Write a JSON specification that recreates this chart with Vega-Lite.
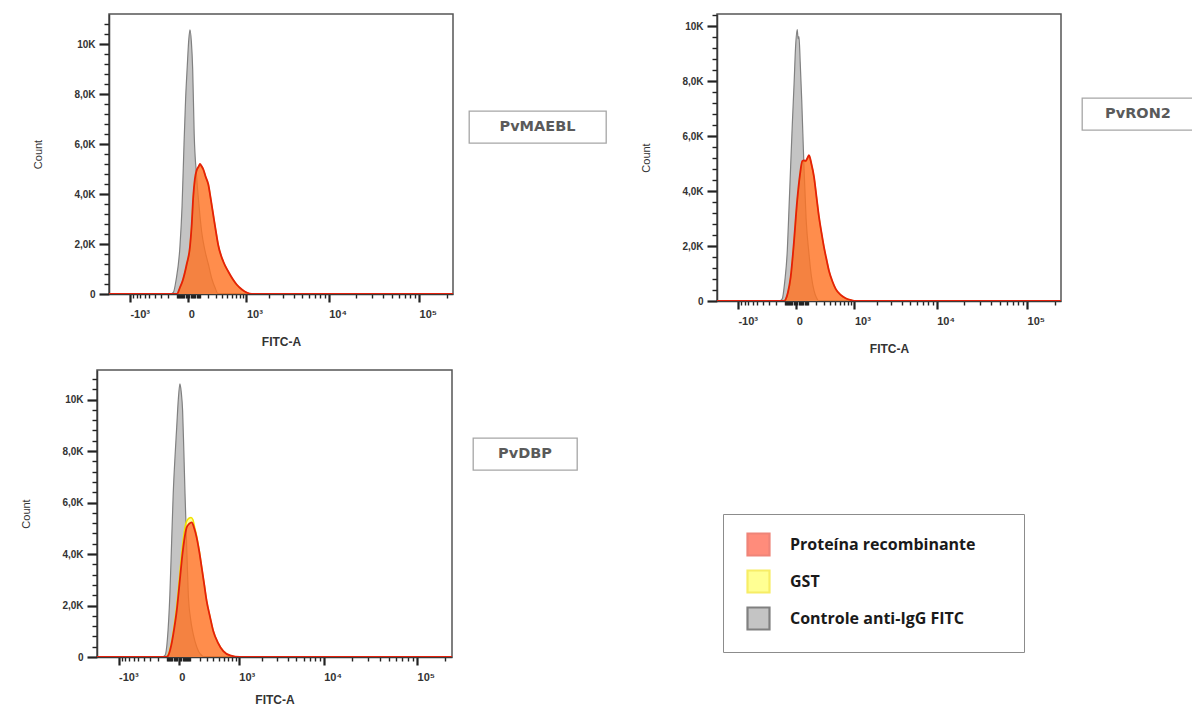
{
  "$schema": "https://vega.github.io/schema/vega-lite/v6.json",
  "background": "white",
  "padding": {"left": 0, "top": 9, "right": 0, "bottom": 0},
  "config": {
    "view": {"stroke": "#555555", "strokeWidth": 1.5},
    "axis": {"grid": false, "domainColor": "#3a3a3a", "domainWidth": 1.5, "tickColor": "#222222", "labelColor": "#333333", "labelFont": "Liberation Sans", "labelFontSize": 10, "labelFontWeight": "bold", "titleColor": "#333333", "titleFont": "Liberation Sans"},
    "legend": {"symbolType": "square", "symbolSize": 484, "symbolStrokeWidth": 2.2, "symbolOffset": 5, "labelFont": "Open Sans", "labelFontSize": 16, "labelFontWeight": "bold", "labelColor": "#1a1a1a", "labelOffset": 19, "rowPadding": 6, "padding": 18, "strokeColor": "#8c8c8c", "fillColor": "white", "labelLimit": 400}
  },
  "datasets": {
    "p1": [
      {"serie": "Controle anti-IgG FITC", "fitc": -1900, "count": 0}, {"serie": "Controle anti-IgG FITC", "fitc": -170, "count": 0}, {"serie": "Controle anti-IgG FITC", "fitc": -136, "count": 60}, {"serie": "Controle anti-IgG FITC", "fitc": -108, "count": 530}, {"serie": "Controle anti-IgG FITC", "fitc": -69, "count": 1900}, {"serie": "Controle anti-IgG FITC", "fitc": -50, "count": 3500}, {"serie": "Controle anti-IgG FITC", "fitc": -33, "count": 6000}, {"serie": "Controle anti-IgG FITC", "fitc": -20, "count": 7800}, {"serie": "Controle anti-IgG FITC", "fitc": -7, "count": 9100}, {"serie": "Controle anti-IgG FITC", "fitc": 5, "count": 10200}, {"serie": "Controle anti-IgG FITC", "fitc": 14, "count": 10570}, {"serie": "Controle anti-IgG FITC", "fitc": 25, "count": 10100}, {"serie": "Controle anti-IgG FITC", "fitc": 36, "count": 9000}, {"serie": "Controle anti-IgG FITC", "fitc": 49, "count": 6400}, {"serie": "Controle anti-IgG FITC", "fitc": 71, "count": 4700}, {"serie": "Controle anti-IgG FITC", "fitc": 95, "count": 3500}, {"serie": "Controle anti-IgG FITC", "fitc": 121, "count": 2500}, {"serie": "Controle anti-IgG FITC", "fitc": 160, "count": 1700}, {"serie": "Controle anti-IgG FITC", "fitc": 198, "count": 1200}, {"serie": "Controle anti-IgG FITC", "fitc": 245, "count": 600}, {"serie": "Controle anti-IgG FITC", "fitc": 289, "count": 260}, {"serie": "Controle anti-IgG FITC", "fitc": 340, "count": 0}, {"serie": "Controle anti-IgG FITC", "fitc": 235000, "count": 0},
      {"serie": "GST", "fitc": -1900, "count": 0}, {"serie": "GST", "fitc": -96, "count": 0}, {"serie": "GST", "fitc": -70, "count": 240}, {"serie": "GST", "fitc": -45, "count": 520}, {"serie": "GST", "fitc": -11, "count": 1190}, {"serie": "GST", "fitc": 14, "count": 1890}, {"serie": "GST", "fitc": 27, "count": 2690}, {"serie": "GST", "fitc": 41, "count": 3880}, {"serie": "GST", "fitc": 55, "count": 4580}, {"serie": "GST", "fitc": 71, "count": 4930}, {"serie": "GST", "fitc": 90, "count": 5080}, {"serie": "GST", "fitc": 104, "count": 5180}, {"serie": "GST", "fitc": 120, "count": 5100}, {"serie": "GST", "fitc": 139, "count": 4970}, {"serie": "GST", "fitc": 165, "count": 4690}, {"serie": "GST", "fitc": 198, "count": 4370}, {"serie": "GST", "fitc": 230, "count": 3790}, {"serie": "GST", "fitc": 263, "count": 3180}, {"serie": "GST", "fitc": 300, "count": 2540}, {"serie": "GST", "fitc": 340, "count": 1940}, {"serie": "GST", "fitc": 426, "count": 1290}, {"serie": "GST", "fitc": 523, "count": 890}, {"serie": "GST", "fitc": 620, "count": 590}, {"serie": "GST", "fitc": 717, "count": 370}, {"serie": "GST", "fitc": 860, "count": 175}, {"serie": "GST", "fitc": 1008, "count": 55}, {"serie": "GST", "fitc": 1180, "count": 0}, {"serie": "GST", "fitc": 235000, "count": 0},
      {"serie": "Proteína recombinante", "fitc": -1900, "count": 0}, {"serie": "Proteína recombinante", "fitc": -98, "count": 0}, {"serie": "Proteína recombinante", "fitc": -70, "count": 250}, {"serie": "Proteína recombinante", "fitc": -45, "count": 530}, {"serie": "Proteína recombinante", "fitc": -11, "count": 1200}, {"serie": "Proteína recombinante", "fitc": 14, "count": 1900}, {"serie": "Proteína recombinante", "fitc": 27, "count": 2700}, {"serie": "Proteína recombinante", "fitc": 41, "count": 3900}, {"serie": "Proteína recombinante", "fitc": 55, "count": 4600}, {"serie": "Proteína recombinante", "fitc": 71, "count": 4950}, {"serie": "Proteína recombinante", "fitc": 90, "count": 5100}, {"serie": "Proteína recombinante", "fitc": 104, "count": 5200}, {"serie": "Proteína recombinante", "fitc": 120, "count": 5120}, {"serie": "Proteína recombinante", "fitc": 139, "count": 4990}, {"serie": "Proteína recombinante", "fitc": 165, "count": 4700}, {"serie": "Proteína recombinante", "fitc": 198, "count": 4390}, {"serie": "Proteína recombinante", "fitc": 230, "count": 3800}, {"serie": "Proteína recombinante", "fitc": 263, "count": 3190}, {"serie": "Proteína recombinante", "fitc": 300, "count": 2550}, {"serie": "Proteína recombinante", "fitc": 340, "count": 1950}, {"serie": "Proteína recombinante", "fitc": 426, "count": 1300}, {"serie": "Proteína recombinante", "fitc": 523, "count": 900}, {"serie": "Proteína recombinante", "fitc": 620, "count": 600}, {"serie": "Proteína recombinante", "fitc": 717, "count": 380}, {"serie": "Proteína recombinante", "fitc": 860, "count": 180}, {"serie": "Proteína recombinante", "fitc": 1008, "count": 60}, {"serie": "Proteína recombinante", "fitc": 1194, "count": 0}, {"serie": "Proteína recombinante", "fitc": 235000, "count": 0}
    ],
    "p2": [
      {"serie": "Controle anti-IgG FITC", "fitc": -1900, "count": 0}, {"serie": "Controle anti-IgG FITC", "fitc": -160, "count": 0}, {"serie": "Controle anti-IgG FITC", "fitc": -126, "count": 80}, {"serie": "Controle anti-IgG FITC", "fitc": -100, "count": 700}, {"serie": "Controle anti-IgG FITC", "fitc": -75, "count": 1840}, {"serie": "Controle anti-IgG FITC", "fitc": -60, "count": 3300}, {"serie": "Controle anti-IgG FITC", "fitc": -45, "count": 4880}, {"serie": "Controle anti-IgG FITC", "fitc": -30, "count": 6500}, {"serie": "Controle anti-IgG FITC", "fitc": -16, "count": 7930}, {"serie": "Controle anti-IgG FITC", "fitc": -5, "count": 9200}, {"serie": "Controle anti-IgG FITC", "fitc": 8, "count": 9880}, {"serie": "Controle anti-IgG FITC", "fitc": 15, "count": 9550}, {"serie": "Controle anti-IgG FITC", "fitc": 22, "count": 9630}, {"serie": "Controle anti-IgG FITC", "fitc": 32, "count": 8700}, {"serie": "Controle anti-IgG FITC", "fitc": 45, "count": 7320}, {"serie": "Controle anti-IgG FITC", "fitc": 65, "count": 4880}, {"serie": "Controle anti-IgG FITC", "fitc": 85, "count": 3000}, {"serie": "Controle anti-IgG FITC", "fitc": 114, "count": 1720}, {"serie": "Controle anti-IgG FITC", "fitc": 140, "count": 900}, {"serie": "Controle anti-IgG FITC", "fitc": 170, "count": 380}, {"serie": "Controle anti-IgG FITC", "fitc": 200, "count": 120}, {"serie": "Controle anti-IgG FITC", "fitc": 233, "count": 0}, {"serie": "Controle anti-IgG FITC", "fitc": 235000, "count": 0},
      {"serie": "GST", "fitc": -1900, "count": 0}, {"serie": "GST", "fitc": -108, "count": 0}, {"serie": "GST", "fitc": -91, "count": 55}, {"serie": "GST", "fitc": -70, "count": 290}, {"serie": "GST", "fitc": -45, "count": 850}, {"serie": "GST", "fitc": -20, "count": 1980}, {"serie": "GST", "fitc": 8, "count": 3640}, {"serie": "GST", "fitc": 30, "count": 4570}, {"serie": "GST", "fitc": 50, "count": 5080}, {"serie": "GST", "fitc": 65, "count": 5100}, {"serie": "GST", "fitc": 81, "count": 5080}, {"serie": "GST", "fitc": 100, "count": 5200}, {"serie": "GST", "fitc": 114, "count": 5290}, {"serie": "GST", "fitc": 140, "count": 4980}, {"serie": "GST", "fitc": 170, "count": 4500}, {"serie": "GST", "fitc": 200, "count": 3780}, {"serie": "GST", "fitc": 233, "count": 3040}, {"serie": "GST", "fitc": 270, "count": 2430}, {"serie": "GST", "fitc": 304, "count": 1950}, {"serie": "GST", "fitc": 345, "count": 1490}, {"serie": "GST", "fitc": 385, "count": 1090}, {"serie": "GST", "fitc": 450, "count": 690}, {"serie": "GST", "fitc": 511, "count": 430}, {"serie": "GST", "fitc": 620, "count": 215}, {"serie": "GST", "fitc": 742, "count": 95}, {"serie": "GST", "fitc": 900, "count": 28}, {"serie": "GST", "fitc": 1030, "count": 0}, {"serie": "GST", "fitc": 235000, "count": 0},
      {"serie": "Proteína recombinante", "fitc": -1900, "count": 0}, {"serie": "Proteína recombinante", "fitc": -110, "count": 0}, {"serie": "Proteína recombinante", "fitc": -91, "count": 60}, {"serie": "Proteína recombinante", "fitc": -70, "count": 300}, {"serie": "Proteína recombinante", "fitc": -45, "count": 860}, {"serie": "Proteína recombinante", "fitc": -20, "count": 2000}, {"serie": "Proteína recombinante", "fitc": 8, "count": 3670}, {"serie": "Proteína recombinante", "fitc": 30, "count": 4600}, {"serie": "Proteína recombinante", "fitc": 50, "count": 5100}, {"serie": "Proteína recombinante", "fitc": 65, "count": 5120}, {"serie": "Proteína recombinante", "fitc": 81, "count": 5100}, {"serie": "Proteína recombinante", "fitc": 100, "count": 5220}, {"serie": "Proteína recombinante", "fitc": 114, "count": 5310}, {"serie": "Proteína recombinante", "fitc": 140, "count": 5000}, {"serie": "Proteína recombinante", "fitc": 170, "count": 4520}, {"serie": "Proteína recombinante", "fitc": 200, "count": 3800}, {"serie": "Proteína recombinante", "fitc": 233, "count": 3060}, {"serie": "Proteína recombinante", "fitc": 270, "count": 2450}, {"serie": "Proteína recombinante", "fitc": 304, "count": 1960}, {"serie": "Proteína recombinante", "fitc": 345, "count": 1500}, {"serie": "Proteína recombinante", "fitc": 385, "count": 1100}, {"serie": "Proteína recombinante", "fitc": 450, "count": 700}, {"serie": "Proteína recombinante", "fitc": 511, "count": 440}, {"serie": "Proteína recombinante", "fitc": 620, "count": 220}, {"serie": "Proteína recombinante", "fitc": 742, "count": 100}, {"serie": "Proteína recombinante", "fitc": 900, "count": 30}, {"serie": "Proteína recombinante", "fitc": 1041, "count": 0}, {"serie": "Proteína recombinante", "fitc": 235000, "count": 0}
    ],
    "p3": [
      {"serie": "Controle anti-IgG FITC", "fitc": -1900, "count": 0}, {"serie": "Controle anti-IgG FITC", "fitc": -150, "count": 0}, {"serie": "Controle anti-IgG FITC", "fitc": -119, "count": 60}, {"serie": "Controle anti-IgG FITC", "fitc": -95, "count": 700}, {"serie": "Controle anti-IgG FITC", "fitc": -72, "count": 2440}, {"serie": "Controle anti-IgG FITC", "fitc": -57, "count": 4400}, {"serie": "Controle anti-IgG FITC", "fitc": -43, "count": 6330}, {"serie": "Controle anti-IgG FITC", "fitc": -28, "count": 7800}, {"serie": "Controle anti-IgG FITC", "fitc": -15, "count": 8920}, {"serie": "Controle anti-IgG FITC", "fitc": -3, "count": 10000}, {"serie": "Controle anti-IgG FITC", "fitc": 9, "count": 10610}, {"serie": "Controle anti-IgG FITC", "fitc": 19, "count": 10300}, {"serie": "Controle anti-IgG FITC", "fitc": 30, "count": 9570}, {"serie": "Controle anti-IgG FITC", "fitc": 40, "count": 8000}, {"serie": "Controle anti-IgG FITC", "fitc": 50, "count": 6330}, {"serie": "Controle anti-IgG FITC", "fitc": 65, "count": 4200}, {"serie": "Controle anti-IgG FITC", "fitc": 79, "count": 2440}, {"serie": "Controle anti-IgG FITC", "fitc": 100, "count": 1500}, {"serie": "Controle anti-IgG FITC", "fitc": 128, "count": 880}, {"serie": "Controle anti-IgG FITC", "fitc": 165, "count": 400}, {"serie": "Controle anti-IgG FITC", "fitc": 204, "count": 130}, {"serie": "Controle anti-IgG FITC", "fitc": 270, "count": 0}, {"serie": "Controle anti-IgG FITC", "fitc": 235000, "count": 0},
      {"serie": "GST", "fitc": -1900, "count": 0}, {"serie": "GST", "fitc": -110, "count": 0}, {"serie": "GST", "fitc": -90, "count": 70}, {"serie": "GST", "fitc": -62, "count": 480}, {"serie": "GST", "fitc": -37, "count": 1150}, {"serie": "GST", "fitc": -17, "count": 1900}, {"serie": "GST", "fitc": 3, "count": 2950}, {"serie": "GST", "fitc": 21, "count": 3950}, {"serie": "GST", "fitc": 40, "count": 4750}, {"serie": "GST", "fitc": 62, "count": 5250}, {"serie": "GST", "fitc": 88, "count": 5400}, {"serie": "GST", "fitc": 105, "count": 5420}, {"serie": "GST", "fitc": 125, "count": 5330}, {"serie": "GST", "fitc": 145, "count": 5000}, {"serie": "GST", "fitc": 168, "count": 4650}, {"serie": "GST", "fitc": 197, "count": 4100}, {"serie": "GST", "fitc": 226, "count": 3470}, {"serie": "GST", "fitc": 260, "count": 2800}, {"serie": "GST", "fitc": 293, "count": 2180}, {"serie": "GST", "fitc": 345, "count": 1550}, {"serie": "GST", "fitc": 397, "count": 1010}, {"serie": "GST", "fitc": 480, "count": 560}, {"serie": "GST", "fitc": 590, "count": 230}, {"serie": "GST", "fitc": 750, "count": 60}, {"serie": "GST", "fitc": 1038, "count": 0}, {"serie": "GST", "fitc": 235000, "count": 0},
      {"serie": "Proteína recombinante", "fitc": -1900, "count": 0}, {"serie": "Proteína recombinante", "fitc": -105, "count": 0}, {"serie": "Proteína recombinante", "fitc": -87, "count": 60}, {"serie": "Proteína recombinante", "fitc": -60, "count": 450}, {"serie": "Proteína recombinante", "fitc": -35, "count": 1100}, {"serie": "Proteína recombinante", "fitc": -15, "count": 1790}, {"serie": "Proteína recombinante", "fitc": 5, "count": 2800}, {"serie": "Proteína recombinante", "fitc": 23, "count": 3740}, {"serie": "Proteína recombinante", "fitc": 42, "count": 4500}, {"serie": "Proteína recombinante", "fitc": 64, "count": 5030}, {"serie": "Proteína recombinante", "fitc": 88, "count": 5180}, {"serie": "Proteína recombinante", "fitc": 112, "count": 5230}, {"serie": "Proteína recombinante", "fitc": 138, "count": 5000}, {"serie": "Proteína recombinante", "fitc": 165, "count": 4640}, {"serie": "Proteína recombinante", "fitc": 195, "count": 4100}, {"serie": "Proteína recombinante", "fitc": 226, "count": 3470}, {"serie": "Proteína recombinante", "fitc": 260, "count": 2800}, {"serie": "Proteína recombinante", "fitc": 293, "count": 2180}, {"serie": "Proteína recombinante", "fitc": 345, "count": 1550}, {"serie": "Proteína recombinante", "fitc": 397, "count": 1010}, {"serie": "Proteína recombinante", "fitc": 480, "count": 560}, {"serie": "Proteína recombinante", "fitc": 590, "count": 230}, {"serie": "Proteína recombinante", "fitc": 750, "count": 60}, {"serie": "Proteína recombinante", "fitc": 1038, "count": 0}, {"serie": "Proteína recombinante", "fitc": 235000, "count": 0}
    ]
  },
  "spacing": 14,
  "vconcat": [
    {
      "spacing": 14,
      "hconcat": [
        {"width": 18, "height": 1, "data": {"values": []}, "mark": "point", "view": {"stroke": null}},
        {
          "width": 344, "height": 280,
          "data": {"name": "p1"},
          "encoding": {
            "x": {"field": "fitc", "type": "quantitative", "scale": {"type": "symlog", "constant": 300, "domain": [-1900, 235000], "nice": false, "zero": false},
              "axis": {"title": "FITC-A", "titleFontWeight": "bold", "titleFontSize": 12, "titlePadding": 17, "labelFontSize": 11, "labelAlign": "left", "labelPadding": 6, "labelFlush": false, "labelOverlap": false, "labelBound": false,
                "values": [-1000, -900, -800, -700, -600, -500, -400, -300, -200, -100, -90, -80, -70, -60, -50, -40, -30, -20, -10, 0, 10, 20, 30, 40, 50, 60, 70, 80, 90, 100, 200, 300, 400, 500, 600, 700, 800, 900, 1000, 2000, 3000, 4000, 5000, 6000, 7000, 8000, 9000, 10000, 20000, 30000, 40000, 50000, 60000, 70000, 80000, 90000, 100000, 200000],
                "labelExpr": "datum.value === -1000 ? '-10³' : datum.value === 0 ? '0' : datum.value === 1000 ? '10³' : datum.value === 10000 ? '10⁴' : datum.value === 100000 ? '10⁵' : ''",
                "tickSize": {"condition": {"test": "abs(datum.value) === 1000 || datum.value === 10000 || datum.value === 100000 || datum.value === 0", "value": 8}, "value": 4},
                "tickWidth": {"condition": {"test": "abs(datum.value) === 1000 || datum.value === 10000 || datum.value === 100000 || datum.value === 0", "value": 2.2}, "value": 1.4}}},
            "y": {"field": "count", "type": "quantitative", "stack": null, "scale": {"domain": [0, 11200], "nice": false},
              "axis": {"title": "Count", "titleFontSize": 11, "titleFontWeight": "normal", "titlePadding": 30, "labelPadding": 4, "labelOverlap": false, "labelFlush": false,
                "values": [0, 400, 800, 1200, 1600, 2000, 2400, 2800, 3200, 3600, 4000, 4400, 4800, 5200, 5600, 6000, 6400, 6800, 7200, 7600, 8000, 8400, 8800, 9200, 9600, 10000, 10400, 10800],
                "labelExpr": "datum.value === 0 ? '0' : datum.value === 2000 ? '2,0K' : datum.value === 4000 ? '4,0K' : datum.value === 6000 ? '6,0K' : datum.value === 8000 ? '8,0K' : datum.value === 10000 ? '10K' : ''",
                "tickSize": {"condition": {"test": "datum.value % 2000 === 0", "value": 10}, "value": 5},
                "tickWidth": {"condition": {"test": "datum.value % 2000 === 0", "value": 2.2}, "value": 1.4}}}
          },
          "layer": [
            {"transform": [{"filter": "datum.serie === 'Controle anti-IgG FITC'"}], "mark": {"type": "area", "interpolate": "monotone", "clip": true},
              "encoding": {"fill": {"field": "serie", "type": "nominal", "scale": {"domain": ["Proteína recombinante", "GST", "Controle anti-IgG FITC"], "range": ["#ff3010", "#ffff4d", "#c4c4c4"]}, "legend": {"orient": "none", "legendX": 723, "legendY": 500, "title": " ", "titleOrient": "right", "titlePadding": 30}},
                "opacity": {"field": "serie", "type": "nominal", "scale": {"type": "ordinal", "domain": ["Proteína recombinante", "GST", "Controle anti-IgG FITC"], "range": [0.55, 0.6, 1]}, "legend": {"title": " "}}}},
            {"transform": [{"filter": "datum.serie === 'Controle anti-IgG FITC'"}], "mark": {"type": "line", "interpolate": "monotone", "strokeWidth": 1.2, "clip": true},
              "encoding": {"stroke": {"field": "serie", "type": "nominal", "scale": {"domain": ["Proteína recombinante", "GST", "Controle anti-IgG FITC"], "range": ["#e3200b", "#f2e200", "#808080"]}, "legend": {"title": " "}}}},
            {"transform": [{"filter": "datum.serie === 'GST'"}], "mark": {"type": "area", "interpolate": "monotone", "clip": true},
              "encoding": {"fill": {"field": "serie", "type": "nominal", "scale": {"domain": ["Proteína recombinante", "GST", "Controle anti-IgG FITC"], "range": ["#ff3010", "#ffff4d", "#c4c4c4"]}},
                "opacity": {"field": "serie", "type": "nominal", "scale": {"type": "ordinal", "domain": ["Proteína recombinante", "GST", "Controle anti-IgG FITC"], "range": [0.55, 0.6, 1]}}}},
            {"transform": [{"filter": "datum.serie === 'GST'"}], "mark": {"type": "line", "interpolate": "monotone", "strokeWidth": 1.5, "clip": true},
              "encoding": {"stroke": {"field": "serie", "type": "nominal", "scale": {"domain": ["Proteína recombinante", "GST", "Controle anti-IgG FITC"], "range": ["#e3200b", "#f2e200", "#808080"]}}}},
            {"transform": [{"filter": "datum.serie === 'Proteína recombinante'"}], "mark": {"type": "area", "interpolate": "monotone", "clip": true},
              "encoding": {"fill": {"field": "serie", "type": "nominal", "scale": {"domain": ["Proteína recombinante", "GST", "Controle anti-IgG FITC"], "range": ["#ff3010", "#ffff4d", "#c4c4c4"]}},
                "opacity": {"field": "serie", "type": "nominal", "scale": {"type": "ordinal", "domain": ["Proteína recombinante", "GST", "Controle anti-IgG FITC"], "range": [0.55, 0.6, 1]}}}},
            {"transform": [{"filter": "datum.serie === 'Proteína recombinante'"}], "mark": {"type": "line", "interpolate": "monotone", "strokeWidth": 1.8, "clip": true},
              "encoding": {"stroke": {"field": "serie", "type": "nominal", "scale": {"domain": ["Proteína recombinante", "GST", "Controle anti-IgG FITC"], "range": ["#e3200b", "#f2e200", "#808080"]}}}}
          ]
        },
        {
          "spacing": 0,
          "vconcat": [
            {"width": 157, "height": 96, "data": {"values": []}, "mark": "point", "view": {"stroke": null}},
            {"width": 137, "height": 32, "data": {"values": [{"t": "PvMAEBL"}]}, "mark": {"type": "text", "font": "DejaVu Sans", "fontSize": 14.5, "fontWeight": "bold", "color": "#5a5a5a"}, "encoding": {"text": {"field": "t"}}, "view": {"stroke": "#a6a6a6", "strokeWidth": 1.3}}
          ]
        },
        {
          "width": 344, "height": 287,
          "data": {"name": "p2"},
          "encoding": {
            "x": {"field": "fitc", "type": "quantitative", "scale": {"type": "symlog", "constant": 300, "domain": [-1900, 235000], "nice": false, "zero": false},
              "axis": {"title": "FITC-A", "titleFontWeight": "bold", "titleFontSize": 12, "titlePadding": 17, "labelFontSize": 11, "labelAlign": "left", "labelPadding": 6, "labelFlush": false, "labelOverlap": false, "labelBound": false,
                "values": [-1000, -900, -800, -700, -600, -500, -400, -300, -200, -100, -90, -80, -70, -60, -50, -40, -30, -20, -10, 0, 10, 20, 30, 40, 50, 60, 70, 80, 90, 100, 200, 300, 400, 500, 600, 700, 800, 900, 1000, 2000, 3000, 4000, 5000, 6000, 7000, 8000, 9000, 10000, 20000, 30000, 40000, 50000, 60000, 70000, 80000, 90000, 100000, 200000],
                "labelExpr": "datum.value === -1000 ? '-10³' : datum.value === 0 ? '0' : datum.value === 1000 ? '10³' : datum.value === 10000 ? '10⁴' : datum.value === 100000 ? '10⁵' : ''",
                "tickSize": {"condition": {"test": "abs(datum.value) === 1000 || datum.value === 10000 || datum.value === 100000 || datum.value === 0", "value": 8}, "value": 4},
                "tickWidth": {"condition": {"test": "abs(datum.value) === 1000 || datum.value === 10000 || datum.value === 100000 || datum.value === 0", "value": 2.2}, "value": 1.4}}},
            "y": {"field": "count", "type": "quantitative", "stack": null, "scale": {"domain": [0, 10450], "nice": false},
              "axis": {"title": "Count", "titleFontSize": 11, "titleFontWeight": "normal", "titlePadding": 30, "labelPadding": 4, "labelOverlap": false, "labelFlush": false,
                "values": [0, 400, 800, 1200, 1600, 2000, 2400, 2800, 3200, 3600, 4000, 4400, 4800, 5200, 5600, 6000, 6400, 6800, 7200, 7600, 8000, 8400, 8800, 9200, 9600, 10000, 10400],
                "labelExpr": "datum.value === 0 ? '0' : datum.value === 2000 ? '2,0K' : datum.value === 4000 ? '4,0K' : datum.value === 6000 ? '6,0K' : datum.value === 8000 ? '8,0K' : datum.value === 10000 ? '10K' : ''",
                "tickSize": {"condition": {"test": "datum.value % 2000 === 0", "value": 10}, "value": 5},
                "tickWidth": {"condition": {"test": "datum.value % 2000 === 0", "value": 2.2}, "value": 1.4}}}
          },
          "layer": [
            {"transform": [{"filter": "datum.serie === 'Controle anti-IgG FITC'"}], "mark": {"type": "area", "interpolate": "monotone", "clip": true},
              "encoding": {"fill": {"field": "serie", "type": "nominal", "scale": {"domain": ["Proteína recombinante", "GST", "Controle anti-IgG FITC"], "range": ["#ff3010", "#ffff4d", "#c4c4c4"]}},
                "opacity": {"field": "serie", "type": "nominal", "scale": {"type": "ordinal", "domain": ["Proteína recombinante", "GST", "Controle anti-IgG FITC"], "range": [0.55, 0.6, 1]}}}},
            {"transform": [{"filter": "datum.serie === 'Controle anti-IgG FITC'"}], "mark": {"type": "line", "interpolate": "monotone", "strokeWidth": 1.2, "clip": true},
              "encoding": {"stroke": {"field": "serie", "type": "nominal", "scale": {"domain": ["Proteína recombinante", "GST", "Controle anti-IgG FITC"], "range": ["#e3200b", "#f2e200", "#808080"]}}}},
            {"transform": [{"filter": "datum.serie === 'GST'"}], "mark": {"type": "area", "interpolate": "monotone", "clip": true},
              "encoding": {"fill": {"field": "serie", "type": "nominal", "scale": {"domain": ["Proteína recombinante", "GST", "Controle anti-IgG FITC"], "range": ["#ff3010", "#ffff4d", "#c4c4c4"]}},
                "opacity": {"field": "serie", "type": "nominal", "scale": {"type": "ordinal", "domain": ["Proteína recombinante", "GST", "Controle anti-IgG FITC"], "range": [0.55, 0.6, 1]}}}},
            {"transform": [{"filter": "datum.serie === 'GST'"}], "mark": {"type": "line", "interpolate": "monotone", "strokeWidth": 1.5, "clip": true},
              "encoding": {"stroke": {"field": "serie", "type": "nominal", "scale": {"domain": ["Proteína recombinante", "GST", "Controle anti-IgG FITC"], "range": ["#e3200b", "#f2e200", "#808080"]}}}},
            {"transform": [{"filter": "datum.serie === 'Proteína recombinante'"}], "mark": {"type": "area", "interpolate": "monotone", "clip": true},
              "encoding": {"fill": {"field": "serie", "type": "nominal", "scale": {"domain": ["Proteína recombinante", "GST", "Controle anti-IgG FITC"], "range": ["#ff3010", "#ffff4d", "#c4c4c4"]}},
                "opacity": {"field": "serie", "type": "nominal", "scale": {"type": "ordinal", "domain": ["Proteína recombinante", "GST", "Controle anti-IgG FITC"], "range": [0.55, 0.6, 1]}}}},
            {"transform": [{"filter": "datum.serie === 'Proteína recombinante'"}], "mark": {"type": "line", "interpolate": "monotone", "strokeWidth": 1.8, "clip": true},
              "encoding": {"stroke": {"field": "serie", "type": "nominal", "scale": {"domain": ["Proteína recombinante", "GST", "Controle anti-IgG FITC"], "range": ["#e3200b", "#f2e200", "#808080"]}}}}
          ]
        },
        {
          "spacing": 0,
          "vconcat": [
            {"width": 112, "height": 83, "data": {"values": []}, "mark": "point", "view": {"stroke": null}},
            {"spacing": 4, "hconcat": [
              {"width": 1, "height": 1, "data": {"values": []}, "mark": "point", "view": {"stroke": null}},
              {"width": 112, "height": 32, "data": {"values": [{"t": "PvRON2"}]}, "mark": {"type": "text", "font": "DejaVu Sans", "fontSize": 14.5, "fontWeight": "bold", "color": "#5a5a5a"}, "encoding": {"text": {"field": "t"}}, "view": {"stroke": "#a6a6a6", "strokeWidth": 1.3}}
            ]}
          ]
        }
      ]
    },
    {
      "spacing": 19,
      "hconcat": [
        {"width": 1, "height": 1, "data": {"values": []}, "mark": "point", "view": {"stroke": null}},
        {
          "width": 355, "height": 287,
          "data": {"name": "p3"},
          "encoding": {
            "x": {"field": "fitc", "type": "quantitative", "scale": {"type": "symlog", "constant": 300, "domain": [-1900, 235000], "nice": false, "zero": false},
              "axis": {"title": "FITC-A", "titleFontWeight": "bold", "titleFontSize": 12, "titlePadding": 12, "labelFontSize": 11, "labelAlign": "left", "labelPadding": 6, "labelFlush": false, "labelOverlap": false, "labelBound": false,
                "values": [-1000, -900, -800, -700, -600, -500, -400, -300, -200, -100, -90, -80, -70, -60, -50, -40, -30, -20, -10, 0, 10, 20, 30, 40, 50, 60, 70, 80, 90, 100, 200, 300, 400, 500, 600, 700, 800, 900, 1000, 2000, 3000, 4000, 5000, 6000, 7000, 8000, 9000, 10000, 20000, 30000, 40000, 50000, 60000, 70000, 80000, 90000, 100000, 200000],
                "labelExpr": "datum.value === -1000 ? '-10³' : datum.value === 0 ? '0' : datum.value === 1000 ? '10³' : datum.value === 10000 ? '10⁴' : datum.value === 100000 ? '10⁵' : ''",
                "tickSize": {"condition": {"test": "abs(datum.value) === 1000 || datum.value === 10000 || datum.value === 100000 || datum.value === 0", "value": 8}, "value": 4},
                "tickWidth": {"condition": {"test": "abs(datum.value) === 1000 || datum.value === 10000 || datum.value === 100000 || datum.value === 0", "value": 2.2}, "value": 1.4}}},
            "y": {"field": "count", "type": "quantitative", "stack": null, "scale": {"domain": [0, 11150], "nice": false},
              "axis": {"title": "Count", "titleFontSize": 11, "titleFontWeight": "normal", "titlePadding": 30, "labelPadding": 4, "labelOverlap": false, "labelFlush": false,
                "values": [0, 400, 800, 1200, 1600, 2000, 2400, 2800, 3200, 3600, 4000, 4400, 4800, 5200, 5600, 6000, 6400, 6800, 7200, 7600, 8000, 8400, 8800, 9200, 9600, 10000, 10400, 10800],
                "labelExpr": "datum.value === 0 ? '0' : datum.value === 2000 ? '2,0K' : datum.value === 4000 ? '4,0K' : datum.value === 6000 ? '6,0K' : datum.value === 8000 ? '8,0K' : datum.value === 10000 ? '10K' : ''",
                "tickSize": {"condition": {"test": "datum.value % 2000 === 0", "value": 10}, "value": 5},
                "tickWidth": {"condition": {"test": "datum.value % 2000 === 0", "value": 2.2}, "value": 1.4}}}
          },
          "layer": [
            {"transform": [{"filter": "datum.serie === 'Controle anti-IgG FITC'"}], "mark": {"type": "area", "interpolate": "monotone", "clip": true},
              "encoding": {"fill": {"field": "serie", "type": "nominal", "scale": {"domain": ["Proteína recombinante", "GST", "Controle anti-IgG FITC"], "range": ["#ff3010", "#ffff4d", "#c4c4c4"]}},
                "opacity": {"field": "serie", "type": "nominal", "scale": {"type": "ordinal", "domain": ["Proteína recombinante", "GST", "Controle anti-IgG FITC"], "range": [0.55, 0.6, 1]}}}},
            {"transform": [{"filter": "datum.serie === 'Controle anti-IgG FITC'"}], "mark": {"type": "line", "interpolate": "monotone", "strokeWidth": 1.2, "clip": true},
              "encoding": {"stroke": {"field": "serie", "type": "nominal", "scale": {"domain": ["Proteína recombinante", "GST", "Controle anti-IgG FITC"], "range": ["#e3200b", "#f2e200", "#808080"]}}}},
            {"transform": [{"filter": "datum.serie === 'GST'"}], "mark": {"type": "area", "interpolate": "monotone", "clip": true},
              "encoding": {"fill": {"field": "serie", "type": "nominal", "scale": {"domain": ["Proteína recombinante", "GST", "Controle anti-IgG FITC"], "range": ["#ff3010", "#ffff4d", "#c4c4c4"]}},
                "opacity": {"field": "serie", "type": "nominal", "scale": {"type": "ordinal", "domain": ["Proteína recombinante", "GST", "Controle anti-IgG FITC"], "range": [0.55, 0.6, 1]}}}},
            {"transform": [{"filter": "datum.serie === 'GST'"}], "mark": {"type": "line", "interpolate": "monotone", "strokeWidth": 1.5, "clip": true},
              "encoding": {"stroke": {"field": "serie", "type": "nominal", "scale": {"domain": ["Proteína recombinante", "GST", "Controle anti-IgG FITC"], "range": ["#e3200b", "#f2e200", "#808080"]}}}},
            {"transform": [{"filter": "datum.serie === 'Proteína recombinante'"}], "mark": {"type": "area", "interpolate": "monotone", "clip": true},
              "encoding": {"fill": {"field": "serie", "type": "nominal", "scale": {"domain": ["Proteína recombinante", "GST", "Controle anti-IgG FITC"], "range": ["#ff3010", "#ffff4d", "#c4c4c4"]}},
                "opacity": {"field": "serie", "type": "nominal", "scale": {"type": "ordinal", "domain": ["Proteína recombinante", "GST", "Controle anti-IgG FITC"], "range": [0.55, 0.6, 1]}}}},
            {"transform": [{"filter": "datum.serie === 'Proteína recombinante'"}], "mark": {"type": "line", "interpolate": "monotone", "strokeWidth": 1.8, "clip": true},
              "encoding": {"stroke": {"field": "serie", "type": "nominal", "scale": {"domain": ["Proteína recombinante", "GST", "Controle anti-IgG FITC"], "range": ["#e3200b", "#f2e200", "#808080"]}}}}
          ]
        },
        {
          "spacing": 0,
          "vconcat": [
            {"width": 104, "height": 67, "data": {"values": []}, "mark": "point", "view": {"stroke": null}},
            {"width": 104, "height": 32, "data": {"values": [{"t": "PvDBP"}]}, "mark": {"type": "text", "font": "DejaVu Sans", "fontSize": 14.5, "fontWeight": "bold", "color": "#5a5a5a"}, "encoding": {"text": {"field": "t"}}, "view": {"stroke": "#a6a6a6", "strokeWidth": 1.3}}
          ]
        }
      ]
    }
  ]
}
